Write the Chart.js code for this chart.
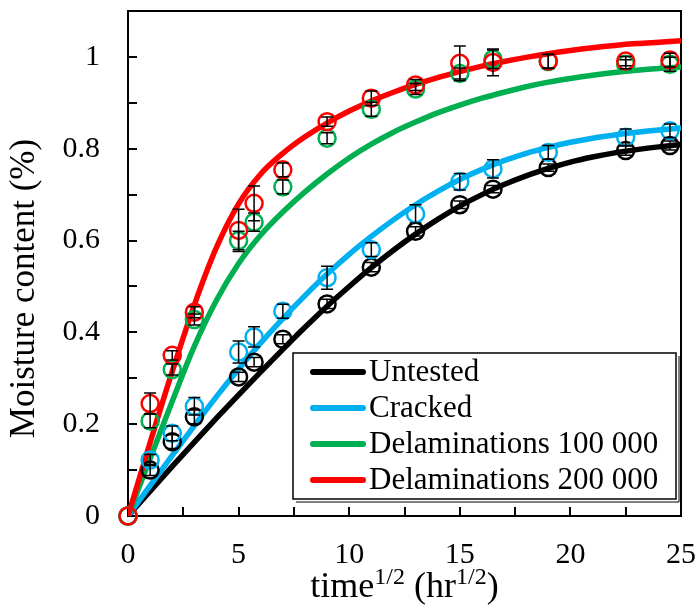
<!DOCTYPE html>
<html>
<head>
<meta charset="utf-8">
<script src="https://cdn.jsdelivr.net/npm/chart.js@4.4.1/dist/chart.umd.min.js"></script>
<style>body{margin:0;background:#fff}</style>
</head>
<body>
<canvas id="myChart" width="698" height="612"></canvas>
<script>
// measured points (time^1/2)
const pointX = [0, 1, 2, 3, 5, 5.7, 7, 9, 11, 13, 15, 16.5, 19, 22.5, 24.5];
const untested = [0, 0.1, 0.162, 0.216, 0.303, 0.335, 0.385, 0.462, 0.542, 0.62, 0.678, 0.712, 0.759, 0.796, 0.807];
const untestedErr = [0, 0.012, 0.015, 0.015, 0.01, 0.01, 0.01, 0.01, 0.01, 0.01, 0.008, 0.008, 0.008, 0.01, 0.01];
const cracked = [0, 0.122, 0.18, 0.239, 0.357, 0.39, 0.446, 0.519, 0.58, 0.658, 0.728, 0.756, 0.792, 0.825, 0.839];
const crackedErr = [0, 0.012, 0.016, 0.019, 0.024, 0.022, 0.015, 0.025, 0.015, 0.02, 0.018, 0.02, 0.015, 0.018, 0.015];
const delam100 = [0, 0.207, 0.319, 0.428, 0.6, 0.64, 0.717, 0.823, 0.886, 0.93, 0.964, 0.995, 0.99, 0.984, 0.984];
const delam100Err = [0, 0.015, 0.012, 0.012, 0.02, 0.02, 0.015, 0.012, 0.015, 0.012, 0.012, 0.02, 0.015, 0.01, 0.015];
const delam200 = [0, 0.245, 0.35, 0.444, 0.622, 0.681, 0.754, 0.859, 0.91, 0.939, 0.986, 0.988, 0.991, 0.991, 0.993];
const delam200Err = [0, 0.023, 0.01, 0.012, 0.046, 0.038, 0.015, 0.01, 0.016, 0.012, 0.038, 0.029, 0.015, 0.01, 0.015];

// fitted curves
const fitX = [0, 1, 2, 3, 4, 5, 6, 7, 8, 9, 10, 11, 12, 13, 14, 15, 16, 17, 18, 19, 20, 21, 22, 23, 24, 25];
const untestedFit = [0, 0.054, 0.108, 0.161, 0.213, 0.264, 0.314, 0.363, 0.411, 0.457, 0.5, 0.541, 0.579, 0.614, 0.646, 0.675, 0.7, 0.722, 0.741, 0.757, 0.771, 0.782, 0.791, 0.798, 0.804, 0.809];
const crackedFit = [0, 0.066, 0.132, 0.197, 0.26, 0.32, 0.377, 0.43, 0.48, 0.527, 0.57, 0.609, 0.645, 0.678, 0.707, 0.733, 0.755, 0.774, 0.79, 0.803, 0.814, 0.823, 0.83, 0.836, 0.841, 0.845];
const delam100Fit = [0, 0.125, 0.25, 0.37, 0.47, 0.55, 0.612, 0.662, 0.706, 0.745, 0.78, 0.81, 0.836, 0.858, 0.878, 0.895, 0.91, 0.923, 0.935, 0.945, 0.953, 0.96, 0.966, 0.971, 0.975, 0.978];
const delam200Fit = [0, 0.16, 0.315, 0.46, 0.585, 0.68, 0.745, 0.79, 0.826, 0.856, 0.882, 0.904, 0.923, 0.94, 0.955, 0.968, 0.98, 0.99, 0.999, 1.007, 1.014, 1.02, 1.025, 1.029, 1.032, 1.035];

const names = ["Untested", "Cracked", "Delaminations 100 000", "Delaminations 200 000"];
const colors = ["#000000", "#00B0F0", "#00B050", "#FF0000"];

const serif = '"Liberation Serif", "Times New Roman", serif';
Chart.defaults.font.family = serif;
Chart.defaults.color = "#000";

const pts = (xs, ys) => xs.map((x, i) => ({ x: x, y: ys[i] }));

const fits = [untestedFit, crackedFit, delam100Fit, delam200Fit];
const marks = [untested, cracked, delam100, delam200];
const errs = [untestedErr, crackedErr, delam100Err, delam200Err];

const datasets = [];
fits.forEach((f, i) => {
  datasets.push({
    label: names[i],
    data: pts(fitX, f),
    showLine: true,
    borderColor: colors[i],
    borderWidth: 5.5,
    borderCapStyle: "round",
    pointRadius: 0,
    cubicInterpolationMode: "monotone",
    fill: false,
    order: 8 - i,
  });
});
marks.forEach((m, i) => {
  datasets.push({
    label: names[i] + " data",
    data: pts(pointX, m),
    errors: errs[i],
    showLine: false,
    clip: false,
    pointStyle: "circle",
    pointRadius: 8.5,
    pointBorderWidth: 2.5,
    pointBorderColor: colors[i],
    pointBackgroundColor: "rgba(0,0,0,0)",
    order: 4 - i,
  });
});

// frame and inside tick marks
const framePlugin = {
  id: "frame",
  beforeDatasetsDraw(chart) {
    const { ctx, chartArea: a, scales } = chart;
    ctx.save();
    ctx.strokeStyle = "#000";
    ctx.lineWidth = 2;
    ctx.strokeRect(a.left, a.top, a.right - a.left, a.bottom - a.top);
    ctx.beginPath();
    for (let v = 0.1; v < 1.1; v += 0.1) {
      const y = Math.round(scales.y.getPixelForValue(v));
      ctx.moveTo(a.left, y);
      ctx.lineTo(a.left + 9, y);
    }
    for (let v = 2.5; v < 25; v += 2.5) {
      const x = Math.round(scales.x.getPixelForValue(v));
      ctx.moveTo(x, a.bottom);
      ctx.lineTo(x, a.bottom - 9);
    }
    ctx.stroke();
    // x tick labels from the scale's own ticks
    ctx.fillStyle = "#000";
    ctx.font = "30px " + serif;
    ctx.textAlign = "center";
    ctx.textBaseline = "middle";
    scales.x.ticks.forEach(t => {
      ctx.fillText(String(t.value), scales.x.getPixelForValue(t.value), a.bottom + 39);
    });
    ctx.restore();
  },
};

// black error bars
const errorPlugin = {
  id: "errbars",
  afterDatasetsDraw(chart) {
    const ctx = chart.ctx;
    const ys = chart.scales.y;
    ctx.save();
    ctx.strokeStyle = "#000";
    ctx.lineWidth = 1.5;
    chart.data.datasets.forEach((ds, di) => {
      if (!ds.errors) return;
      const meta = chart.getDatasetMeta(di);
      meta.data.forEach((p, j) => {
        const e = ds.errors[j];
        if (!e) return;
        const v = ds.data[j].y;
        const y1 = ys.getPixelForValue(v + e);
        const y2 = ys.getPixelForValue(v - e);
        ctx.beginPath();
        ctx.moveTo(p.x, y1); ctx.lineTo(p.x, y2);
        ctx.moveTo(p.x - 6, y1); ctx.lineTo(p.x + 6, y1);
        ctx.moveTo(p.x - 6, y2); ctx.lineTo(p.x + 6, y2);
        ctx.stroke();
      });
    });
    ctx.restore();
  },
};

// titles and legend box
const textPlugin = {
  id: "texts",
  afterDraw(chart) {
    const { ctx, chartArea: a } = chart;
    ctx.save();
    ctx.fillStyle = "#000";

    // y title
    ctx.save();
    ctx.translate(25, (a.top + a.bottom) / 2 + 25);
    ctx.rotate(-Math.PI / 2);
    ctx.font = "35px " + serif;
    ctx.textAlign = "center";
    ctx.textBaseline = "middle";
    ctx.fillText("Moisture content (%)", 0, 0);
    ctx.restore();

    // x title with superscripts
    const big = "36px " + serif, small = "24px " + serif;
    const parts = [["time", big, 0], ["1/2", small, -13], [" (hr", big, 0], ["1/2", small, -13], [")", big, 0]];
    let total = 0;
    parts.forEach(p => { ctx.font = p[1]; total += ctx.measureText(p[0]).width; });
    let x = (a.left + a.right) / 2 - total / 2;
    const base = a.bottom + 81;
    ctx.textBaseline = "alphabetic";
    ctx.textAlign = "left";
    parts.forEach(p => {
      ctx.font = p[1];
      ctx.fillText(p[0], x, base + p[2]);
      x += ctx.measureText(p[0]).width;
    });

    // legend
    const lx = a.right - 388, ly = a.bottom - 163, lw = 383, lh = 146;
    ctx.fillStyle = "#fff";
    ctx.fillRect(lx, ly, lw, lh);
    ctx.strokeStyle = "#000";
    ctx.lineWidth = 1.5;
    ctx.strokeRect(lx, ly, lw, lh);
    ctx.beginPath();
    ctx.moveTo(lx + lw + 3, ly + 3); ctx.lineTo(lx + lw + 3, ly + lh + 3); ctx.lineTo(lx + 3, ly + lh + 3);
    ctx.lineWidth = 1;
    ctx.stroke();
    ctx.font = "31px " + serif;
    ctx.textBaseline = "middle";
    names.forEach((n, i) => {
      const ry = ly + 19 + i * 36;
      ctx.strokeStyle = colors[i];
      ctx.lineWidth = 6;
      ctx.lineCap = "round";
      ctx.beginPath();
      ctx.moveTo(lx + 20, ry); ctx.lineTo(lx + 70, ry);
      ctx.stroke();
      ctx.fillStyle = "#000";
      ctx.fillText(n, lx + 76, ry + 1);
    });
    ctx.restore();
  },
};

const config = {
  type: "scatter",
  data: { datasets },
  options: {
    responsive: false,
    animation: false,
    layout: { padding: { top: 10, right: 17, left: 0, bottom: 0 } },
    plugins: { legend: { display: false }, tooltip: { enabled: false } },
    scales: {
      x: {
        type: "linear",
        min: 0,
        max: 25,
        grid: { display: false, drawTicks: false },
        border: { display: false },
        ticks: { stepSize: 5, display: false },
        afterFit(s) { s.height = 96; s.paddingLeft = 0; s.paddingRight = 0; },
      },
      y: {
        min: 0,
        max: 1.1,
        grid: { display: false, drawTicks: false },
        border: { display: false },
        ticks: {
          stepSize: 0.2,
          includeBounds: false,
          padding: 28,
          font: { size: 30 },
          callback: v => String(Math.round(v * 10) / 10),
        },
        afterFit(s) { s.width = 128; s.paddingTop = 0; s.paddingBottom = 0; },
      },
    },
  },
  plugins: [framePlugin, errorPlugin, textPlugin],
};

const myChart = new Chart(document.getElementById("myChart").getContext("2d"), config);
</script>
</body>
</html>
